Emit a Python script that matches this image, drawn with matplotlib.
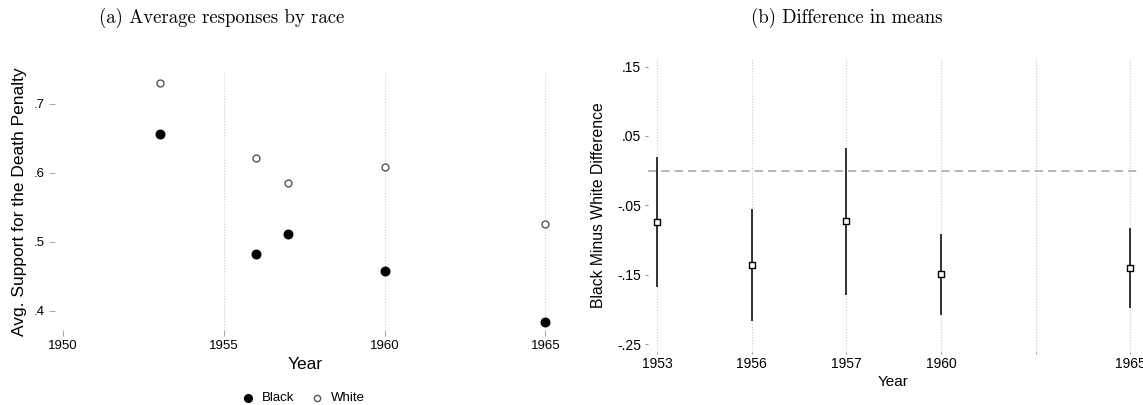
import numpy as np
import matplotlib.pyplot as plt

# panel (a): average support by race
years = [1953, 1956, 1957, 1960, 1965]
black_mean = [0.656, 0.483, 0.511, 0.458, 0.383]
white_mean = [0.731, 0.622, 0.585, 0.609, 0.526]

# panel (b): black minus white difference with CIs
diff_labels = ['1953', '1956', '1957', '1960', '', '1965']
diff_pos = [0, 1, 2, 3, 5]
diff = [-0.074, -0.136, -0.073, -0.149, -0.141]
ci_low = [-0.168, -0.217, -0.179, -0.208, -0.198]
ci_high = [0.019, -0.055, 0.032, -0.091, -0.083]

plt.rcParams['font.family'] = ['Liberation Sans', 'DejaVu Sans']

fig = plt.figure(figsize=(11.43, 4.05), dpi=100)

# ---- panel (a)
ax1 = fig.add_axes([0.048, 0.185, 0.4376, 0.635])
for x in [1955, 1960, 1965]:
    ax1.axvline(x, color='#cccccc', lw=0.8, ls=(0, (1, 1.5)), zorder=0)
ax1.scatter(years, black_mean, s=38, color='black', label='Black', zorder=3)
ax1.scatter(years, white_mean, s=25, facecolor='white', edgecolor='#555555',
            linewidth=1.0, label='White', zorder=3)
ax1.set_xlim(1949.74, 1965.3)
ax1.set_ylim(0.372, 0.745)
ax1.set_xticks([1950, 1955, 1960, 1965])
ax1.set_yticks([0.4, 0.5, 0.6, 0.7])
ax1.set_yticklabels(['.4', '.5', '.6', '.7'])
ax1.set_xlabel('Year', fontsize=12.5, labelpad=4)
ax1.set_ylabel('Avg. Support for the Death Penalty', fontsize=12.5, labelpad=5)
for s in ax1.spines.values():
    s.set_visible(False)
ax1.tick_params(axis='x', length=4, color='#aaaaaa', labelsize=9.5, pad=3,
                direction='out')
ax1.tick_params(axis='y', length=4, color='#aaaaaa', labelsize=9.5, pad=3)
fig.legend(handles=ax1.collections, labels=['Black', 'White'], ncol=2,
           loc='center', bbox_to_anchor=(300 / 1143, 1 - 398 / 405),
           frameon=False, fontsize=9.5, handletextpad=0.05, columnspacing=0.7,
           markerscale=0.9)

# ---- panel (b)
ax2 = fig.add_axes([0.567, 0.1316, 0.4286, 0.7254])
for x in range(len(diff_labels)):
    ax2.axvline(x, color='#cccccc', lw=0.8, ls=(0, (1, 1.5)), zorder=0)
ax2.axhline(0, color='#aaaaaa', lw=1.2, ls=(0, (5, 3)), zorder=1)
ax2.vlines(diff_pos, ci_low, ci_high, color='#222222', lw=1.3, zorder=2)
ax2.scatter(diff_pos, diff, marker='s', s=20, facecolor='white',
            edgecolor='black', linewidth=1.0, zorder=3)
ax2.set_xlim(-0.095, 5.08)
ax2.set_ylim(-0.261, 0.1625)
ax2.set_xticks(range(len(diff_labels)))
ax2.set_xticklabels(diff_labels)
ax2.set_yticks([-0.25, -0.15, -0.05, 0.05, 0.15])
ax2.set_yticklabels(['-.25', '-.15', '-.05', '.05', '.15'])
ax2.set_xlabel('Year', fontsize=11, labelpad=3)
ax2.set_ylabel('Black Minus White Difference', fontsize=11.3, labelpad=8)
for s in ax2.spines.values():
    s.set_visible(False)
ax2.tick_params(axis='x', length=1.5, color='#999999', labelsize=10, pad=2)
ax2.tick_params(axis='y', length=2, color='#999999', labelsize=10, pad=3)

# panel titles
fig.text(222 / 1143, 1 - 18 / 405, '(a) Average responses by race',
         family='cmr10', fontsize=13.5, ha='center', va='center')
fig.text(847 / 1143, 1 - 18 / 405, '(b) Difference in means',
         family='cmr10', fontsize=13.5, ha='center', va='center')

fig.savefig('out.png', dpi=100)
